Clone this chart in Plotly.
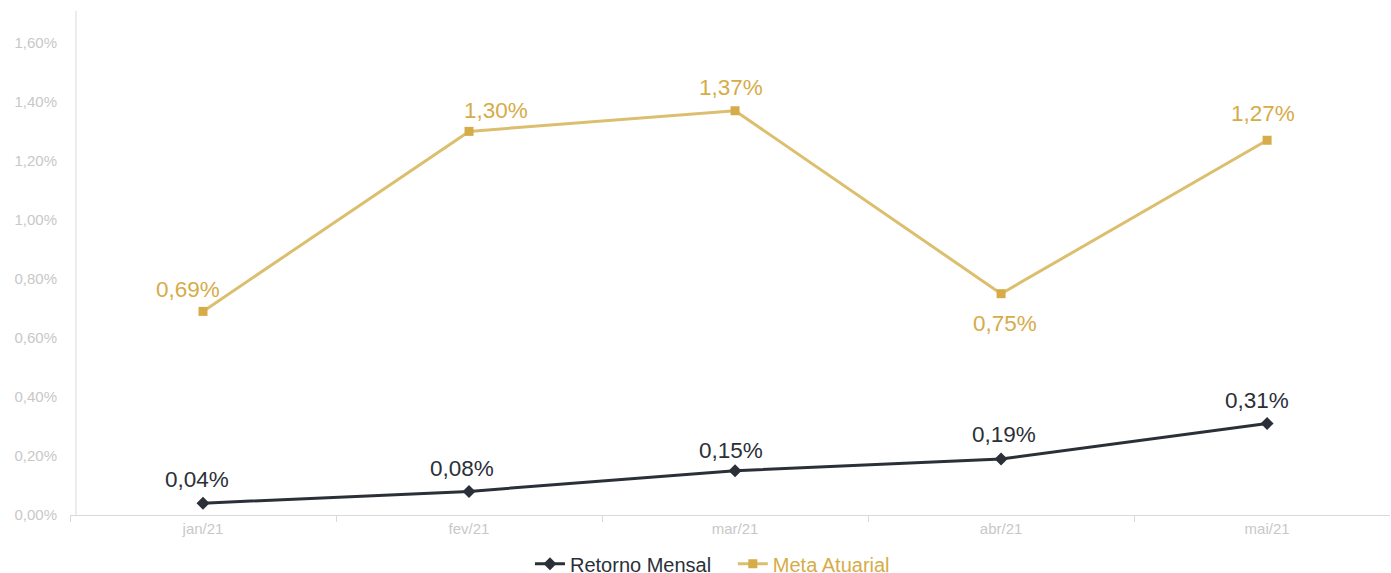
import plotly.graph_objects as go

months = ["jan/21", "fev/21", "mar/21", "abr/21", "mai/21"]
retorno = [0.04, 0.08, 0.15, 0.19, 0.31]
meta = [0.69, 1.30, 1.37, 0.75, 1.27]
y_ticks = [0.0, 0.2, 0.4, 0.6, 0.8, 1.0, 1.2, 1.4, 1.6]

# label offsets in pixels (dx, dy), style only
retorno_label_shift = [(-6, 23), (-7, 22), (-4, 19), (3, 23), (-10, 22)]
meta_label_shift = [(-15, 21), (27, 20), (-4, 22), (4, -31), (-4, 26)]

DARK = "#2b3038"
GOLD = "#d6ac48"
GOLD_LINE = "#dcbf6e"
GRID = "#d9d9d9"
TICKC = "#c8c8c8"

def fmt(v):
    return f"{v:.2f}%".replace(".", ",")

fig = go.Figure()
fig.add_trace(go.Scatter(
    x=months, y=retorno, mode="lines+markers",
    name=f"<span style='color:{DARK}'>Retorno Mensal</span>&nbsp;&nbsp;&nbsp;",
    line=dict(color=DARK, width=3),
    marker=dict(symbol="diamond", size=10, color=DARK),
    cliponaxis=False, hoverinfo="skip",
))
fig.add_trace(go.Scatter(
    x=months, y=meta, mode="lines+markers",
    name=f"<span style='color:{GOLD}'>Meta Atuarial</span>",
    line=dict(color=GOLD_LINE, width=3),
    marker=dict(symbol="square", size=9, color=GOLD),
    cliponaxis=False, hoverinfo="skip",
))

annotations = []
for vals, shifts, col in ((retorno, retorno_label_shift, DARK), (meta, meta_label_shift, GOLD)):
    for m, v, (dx, dy) in zip(months, vals, shifts):
        annotations.append(dict(
            x=m, y=v, xref="x", yref="y", text=fmt(v), showarrow=False,
            xanchor="center", yanchor="middle", xshift=dx, yshift=dy + 1,
            font=dict(size=22.5, color=col, family="Liberation Sans"),
        ))

fig.update_layout(
    width=1391, height=573,
    margin=dict(l=70, r=1, t=11, b=58, autoexpand=False),
    paper_bgcolor="white", plot_bgcolor="white",
    font=dict(family="Liberation Sans", size=15, color=TICKC),
    showlegend=True,
    annotations=annotations,
    legend=dict(orientation="h", x=0.5122, xanchor="center", xref="container",
                y=0.016, yanchor="middle", yref="container",
                font=dict(size=20, color=DARK), itemwidth=30, tracegroupgap=0,
                itemsizing="trace"),
    xaxis=dict(
        type="category", range=[-0.5, 4.462], automargin=False,
        showline=True, linecolor=GRID, linewidth=1,
        ticks="outside", ticklen=6, tickcolor=GRID, tickson="boundaries",
        showgrid=False, zeroline=False,
        tickfont=dict(size=15, color=TICKC),
    ),
    yaxis=dict(
        range=[0, 1.708], tickvals=y_ticks, ticktext=[fmt(v) for v in y_ticks],
        showgrid=False, zeroline=False, showline=False, automargin=False,
        tickfont=dict(size=15, color=TICKC), ticks="", ticklabelstandoff=12,
    ),
    shapes=[dict(type="line", xref="paper", yref="paper", x0=0.0045, x1=0.0045, y0=0, y1=1,
                 line=dict(color=GRID, width=1))],
)

fig.write_html("out.html", config={"displayModeBar": False},
               post_script="document.body.style.margin='0';document.body.style.overflow='hidden';")
